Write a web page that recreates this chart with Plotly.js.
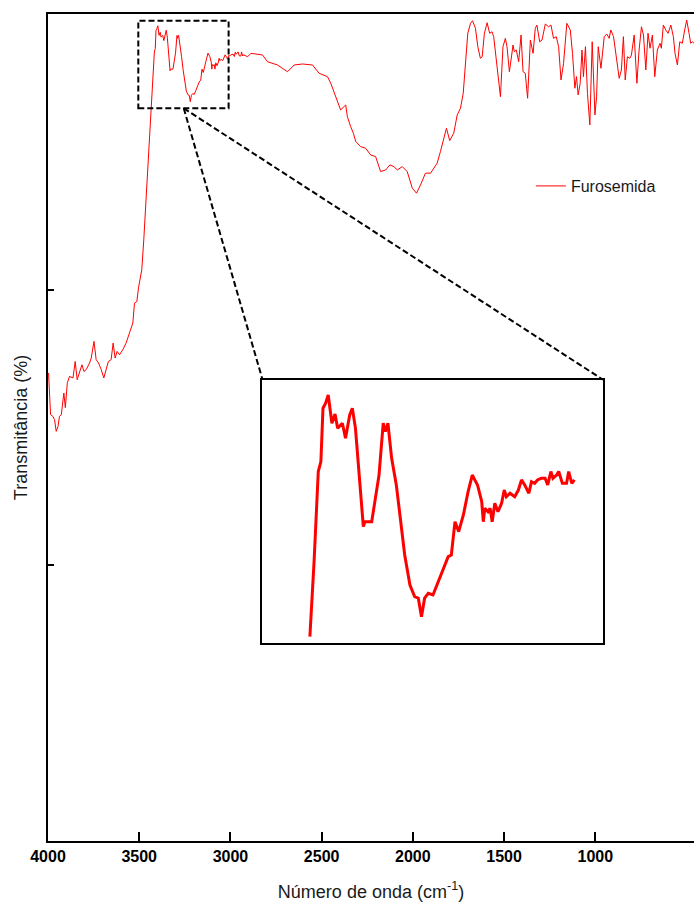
<!DOCTYPE html>
<html>
<head>
<meta charset="utf-8">
<script src="https://cdn.plot.ly/plotly-3.0.1.min.js"></script>
<style>
  html, body { margin: 0; padding: 0; background: #fff; }
  #chart { width: 694px; height: 902px; }
</style>
</head>
<body>
<div id="chart"></div>
<script>
// FTIR spectrum of furosemide: wavenumber (cm-1) and transmittance (arbitrary %)
const wavenumber = [
  3997, 3986, 3973, 3964, 3955, 3945, 3937, 3927, 3913, 3905, 3894, 3882, 3863, 3851, 3840, 3827,
  3814, 3803, 3791, 3772, 3763, 3748, 3736, 3723, 3708, 3694, 3681, 3669, 3654, 3643, 3632, 3621,
  3608, 3590, 3572, 3559, 3544, 3535, 3526, 3513, 3504, 3486, 3475, 3468, 3457, 3444,
  3433, 3425, 3417, 3412, 3408, 3403, 3398, 3391, 3385, 3380, 3371, 3365, 3357, 3352, 3346, 3338,
  3331, 3328, 3315, 3308, 3301, 3293, 3289, 3284, 3277, 3268, 3259, 3252, 3242, 3233, 3226, 3220,
  3214, 3207, 3198, 3189, 3179, 3169, 3163, 3156, 3149, 3140, 3131, 3123, 3118, 3113, 3105, 3102,
  3099, 3093, 3089, 3085, 3080, 3074, 3067, 3062, 3058, 3051, 3042, 3035, 3029, 3023, 3015, 3010,
  3004, 2998, 2991, 2984, 2979, 2973, 2969, 2962, 2958, 2951, 2943, 2939, 2933, 2928,
  2906, 2888, 2857, 2824, 2797, 2742, 2687, 2651, 2605, 2550, 2514, 2468, 2450, 2423, 2396, 2368,
  2359, 2341, 2326, 2313, 2286, 2259, 2231, 2204, 2177, 2149, 2126, 2104, 2085, 2058, 2031, 2003,
  1980, 1958, 1931, 1903, 1867, 1849, 1816, 1798, 1776, 1757, 1739, 1724, 1712, 1699, 1684, 1673,
  1657, 1644, 1630, 1620, 1608, 1593, 1579, 1566, 1557, 1542, 1530, 1520, 1506, 1493, 1484, 1471,
  1462, 1451, 1444, 1433, 1420, 1407, 1396, 1384, 1371, 1356, 1341, 1329, 1320, 1305, 1292, 1274,
  1256, 1243, 1229, 1214, 1201, 1188, 1174, 1156, 1137, 1125, 1112, 1103, 1094, 1083, 1073, 1065,
  1054, 1043, 1030, 1017, 1002, 993, 984, 969, 951, 937, 924, 915, 900, 887, 869, 857,
  846, 836, 824, 811, 802, 787, 772, 760, 747, 736, 723, 711, 700, 687, 674, 660,
  645, 638, 627, 614, 601, 586, 572, 563, 550, 537, 523, 510, 499, 486, 477, 468, 459
];

const transmittance = [
  50.93, 46.40, 46.21, 45.85, 44.58, 45.12, 46.21, 46.40, 48.75, 47.16, 49.87, 50.56, 50.39, 52.19, 50.20, 50.93,
  51.83, 51.10, 51.29, 52.02, 52.56, 54.37, 52.38, 52.02, 51.29, 50.39, 51.47, 52.19, 52.38, 54.19, 52.56, 53.28,
  52.92, 53.46, 54.19, 54.91, 55.64, 56.37, 58.54, 58.71, 60.20, 62.16, 65.42, 67.96, 72.31, 76.65,
  79.72, 82.51, 85.87, 86.24, 88.23, 88.42, 88.72, 87.67, 88.01, 87.48, 87.67, 87.11, 87.98, 88.23, 87.48, 85.37,
  83.82, 84.00, 84.00, 84.87, 85.74, 87.67, 87.36, 87.67, 86.37, 85.37, 83.88, 82.76, 81.64, 81.21, 81.15, 80.46,
  81.15, 81.33, 81.27, 81.71, 82.14, 82.70, 82.76, 84.00, 83.63, 84.25, 85.12, 85.74, 85.55, 85.37, 84.75, 84.00,
  84.50, 84.37, 84.50, 84.00, 84.69, 84.37, 84.69, 85.18, 84.93, 85.06, 84.93, 85.18, 85.56, 85.37, 85.06, 85.49,
  85.43, 85.56, 85.62, 85.62, 85.37, 85.87, 85.62, 85.74, 85.87, 85.43, 85.43, 85.87, 85.43, 85.56,
  85.35, 85.72, 85.65, 85.54, 84.81, 84.45, 83.72, 84.45, 84.56, 84.45, 83.55, 83.18, 82.46, 81.00, 79.56, 80.10,
  78.83, 77.74, 77.02, 76.11, 75.57, 75.39, 74.66, 74.48, 72.85, 73.03, 73.58, 73.39, 73.03, 73.39, 72.85, 71.04,
  70.50, 71.40, 72.68, 72.68, 73.76, 75.02, 77.57, 76.22, 77.02, 79.01, 79.74, 81.37, 84.27, 87.90, 88.98, 89.27,
  88.44, 86.44, 85.18, 85.35, 87.90, 89.05, 87.90, 88.07, 87.53, 84.99, 83.18, 81.00, 86.44, 87.35, 86.44, 83.72,
  84.99, 86.63, 85.90, 86.08, 84.81, 87.71, 83.72, 83.55, 80.83, 87.17, 85.72, 88.44, 88.80, 86.98, 87.17, 88.91,
  88.61, 88.80, 87.35, 87.53, 86.44, 82.82, 84.64, 88.98, 88.26, 85.72, 81.92, 83.18, 81.19, 82.46, 86.08, 83.18,
  86.44, 81.37, 77.93, 86.98, 79.01, 81.00, 86.44, 84.09, 87.53, 87.82, 87.35, 88.26, 87.53, 85.35, 83.00, 83.91,
  87.53, 82.82, 85.35, 85.18, 85.54, 87.71, 82.46, 86.08, 88.61, 87.71, 83.91, 87.90, 86.27, 87.71, 83.18, 86.08,
  86.81, 86.27, 88.80, 88.26, 87.90, 88.80, 87.53, 85.72, 84.45, 86.98, 86.81, 88.26, 89.34, 87.90, 86.81, 86.98, 86.81
];

const xTickVals = [4000, 3500, 3000, 2500, 2000, 1500, 1000];
const yTickVals = [30, 60];
const seriesName = 'Furosemida';

// Region highlighted with the dashed box and enlarged in the inset
const zoomBox = { x0: 3505, x1: 3010, y0: 79.74, y1: 89.27 };
const insetSpan = { from: 3436, to: 2925 };

const insetX = [], insetY = [];
wavenumber.forEach((w, i) => {
  if (w <= insetSpan.from && w >= insetSpan.to) {
    insetX.push(w);
    insetY.push(transmittance[i]);
  }
});

const RED = '#ff0000';
const FONT = 'Liberation Sans, Arial, sans-serif';

const traces = [
  {
    x: wavenumber, y: transmittance, type: 'scatter', mode: 'lines',
    name: seriesName, line: { color: RED, width: 1 },
    xaxis: 'x', yaxis: 'y'
  },
  {
    x: insetX, y: insetY, type: 'scatter', mode: 'lines',
    name: seriesName, showlegend: false, line: { color: RED, width: 3 },
    xaxis: 'x2', yaxis: 'y2'
  }
];

const dashed = { color: '#000', width: 2, dash: '6px,3px' };

const layout = {
  width: 694, height: 902,
  margin: { l: 48, r: 0, t: 14, b: 61 },
  paper_bgcolor: '#fff', plot_bgcolor: 'rgba(0,0,0,0)',
  font: { family: FONT, color: '#000' },
  showlegend: true,
  legend: {
    x: 0.7475, y: 0.792, xanchor: 'left', yanchor: 'middle',
    bgcolor: 'rgba(0,0,0,0)', borderwidth: 0,
    font: { family: FONT, size: 16, color: '#1a1a1a' }
  },
  xaxis: {
    domain: [0, 1], range: [4000, 459], autorange: false,
    tickmode: 'array', tickvals: xTickVals,
    ticks: 'inside', ticklen: 9, tickwidth: 2, tickcolor: '#000',
    showline: true, linewidth: 2, linecolor: '#000', mirror: true,
    showgrid: false, zeroline: false,
    tickfont: { family: FONT, size: 16, weight: 'bold', color: '#000' },
    title: { text: 'Número de onda (cm<sup>-1</sup>)', font: { family: FONT, size: 18, color: '#1a1a1a' }, standoff: 24 }
  },
  yaxis: {
    domain: [0, 1], range: [0, 90], autorange: false,
    tickmode: 'array', tickvals: yTickVals, showticklabels: false,
    ticks: 'inside', ticklen: 6, tickwidth: 2, tickcolor: '#000',
    showline: true, linewidth: 2, linecolor: '#000', mirror: false,
    showgrid: false, zeroline: false,
    title: { text: 'Transmitância (%)', font: { family: FONT, size: 18, color: '#1a1a1a' }, standoff: 14 }
  },
  xaxis2: {
    domain: [0.3308, 0.8587], range: [3525, 2874], autorange: false, anchor: 'y2',
    showline: true, linewidth: 2, linecolor: '#000', mirror: true,
    ticks: '', showticklabels: false, showgrid: false, zeroline: false
  },
  yaxis2: {
    domain: [0.2391, 0.5574], range: [79.47, 89.28], autorange: false, anchor: 'x2',
    showline: true, linewidth: 2, linecolor: '#000', mirror: true,
    ticks: '', showticklabels: false, showgrid: false, zeroline: false
  },
  shapes: [
    { type: 'rect', xref: 'x', yref: 'y', x0: zoomBox.x0, x1: zoomBox.x1, y0: zoomBox.y0, y1: zoomBox.y1,
      line: dashed, fillcolor: 'rgba(0,0,0,0)' },
    { type: 'line', xref: 'x', yref: 'y', x0: 3256, y0: zoomBox.y0, x1: 2824, y1: 50.2, line: dashed },
    { type: 'line', xref: 'x', yref: 'y', x0: 3256, y0: zoomBox.y0, x1: 958, y1: 50.2, line: dashed }
  ]
};

Plotly.newPlot('chart', traces, layout, { displayModeBar: false, staticPlot: true });
</script>
</body>
</html>
